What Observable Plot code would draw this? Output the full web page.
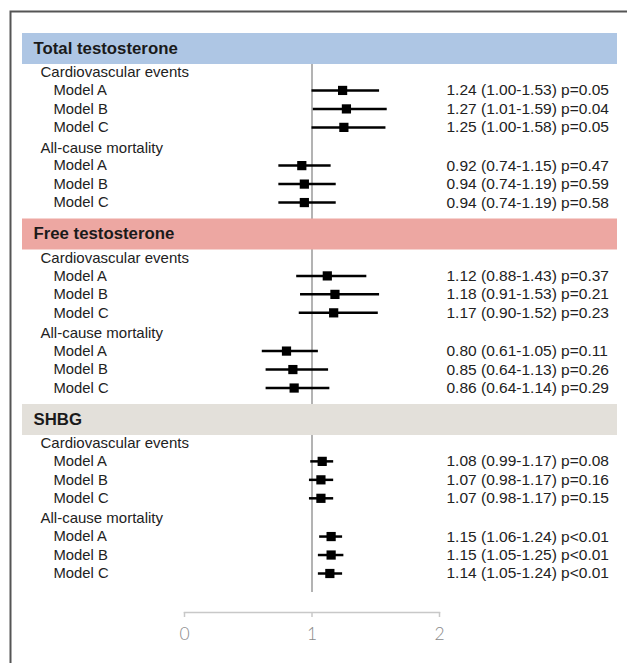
<!DOCTYPE html>
<html>
<head>
<meta charset="utf-8">
<script src="https://cdn.jsdelivr.net/npm/d3@7"></script>
<script src="https://cdn.jsdelivr.net/npm/@observablehq/plot@0.6"></script>
<style>
  html, body { margin: 0; padding: 0; background: #fff; }
  #chart svg { display: block; }
</style>
</head>
<body>
<div id="chart"></div>
<script>
// ---- data ----
const sections = ["Total testosterone", "Free testosterone", "SHBG"];
const sectionColors = ["#aec6e4", "#eda7a2", "#e3e0da"];
const outcomes = ["Cardiovascular events", "All-cause mortality"];
const models = ["Model A", "Model B", "Model C"];

// order: section -> outcome -> model
const hr = [1.24, 1.27, 1.25, 0.92, 0.94, 0.94,
            1.12, 1.18, 1.17, 0.80, 0.85, 0.86,
            1.08, 1.07, 1.07, 1.15, 1.15, 1.14];
const lo = [1.00, 1.01, 1.00, 0.74, 0.74, 0.74,
            0.88, 0.91, 0.90, 0.61, 0.64, 0.64,
            0.99, 0.98, 0.98, 1.06, 1.05, 1.05];
const hi = [1.53, 1.59, 1.58, 1.15, 1.19, 1.19,
            1.43, 1.53, 1.52, 1.05, 1.13, 1.14,
            1.17, 1.17, 1.17, 1.24, 1.25, 1.24];
const pText = ["p=0.05", "p=0.04", "p=0.05", "p=0.47", "p=0.59", "p=0.58",
               "p=0.37", "p=0.21", "p=0.23", "p=0.11", "p=0.26", "p=0.29",
               "p=0.08", "p=0.16", "p=0.15", "p<0.01", "p<0.01", "p<0.01"];
const xTicks = [0, 1, 2];

// ---- layout (row units) ----
const GAP = {headerToGroup: 1.3, groupToModel: 0.97, model: 1.0, modelToGroup: 1.1, modelToHeader: 1.7};
const headers = [], groups = [], rows = [];
let pos = 0, k = 0;
sections.forEach((s, si) => {
  if (si > 0) pos += GAP.modelToHeader;
  headers.push({name: s, color: sectionColors[si], pos});
  outcomes.forEach((o, oi) => {
    pos += oi === 0 ? GAP.headerToGroup : GAP.modelToGroup;
    groups.push({name: o, pos});
    models.forEach((m, mi) => {
      pos += mi === 0 ? GAP.groupToModel : GAP.model;
      const f = v => v.toFixed(2);
      rows.push({name: m, pos, hr: hr[k], lo: lo[k], hi: hi[k],
        label: `${f(hr[k])} (${f(lo[k])}-${f(hi[k])}) ${pText[k]}`});
      k++;
    });
  });
});
const lastPos = pos;

const font = "'Liberation Sans', Arial, sans-serif";

const chart = Plot.plot({
  width: 627,
  height: 663,
  marginLeft: 0,
  marginRight: 0,
  marginTop: 0,
  marginBottom: 51,
  style: {fontFamily: font, background: "#fff"},
  x: {domain: [0, 2], range: [184, 439], axis: null},
  y: {domain: [0, lastPos], range: [48, 573], axis: null},
  color: {type: "identity"},
  marks: [
    Plot.frame({stroke: "#555", strokeWidth: 2, insetLeft: 10, insetTop: 11, insetRight: -20, insetBottom: -80}),
    Plot.ruleX([1], {stroke: "#9a9a9a", strokeWidth: 1.5, insetTop: 60, insetBottom: 20}),
    Plot.tickY(headers, {y: "pos", stroke: "color", strokeWidth: 31, insetLeft: 22, insetRight: 10}),
    Plot.text(headers, {y: "pos", text: "name", frameAnchor: "left", dx: 33, textAnchor: "start",
      fontWeight: "bold", fontSize: 16.8, fill: "#1a1a1a"}),
    Plot.text(groups, {y: "pos", text: "name", frameAnchor: "left", dx: 40, textAnchor: "start",
      fontSize: 15, fill: "#222", style: "word-spacing:3px;letter-spacing:0.1px"}),
    Plot.text(rows, {y: "pos", text: "name", frameAnchor: "left", dx: 53, textAnchor: "start",
      fontSize: 14.8, fill: "#222"}),
    Plot.text(rows, {y: "pos", text: "label", frameAnchor: "left", dx: 446, textAnchor: "start",
      fontSize: 15.5, fill: "#222", style: "letter-spacing:0.4px"}),
    Plot.ruleY(rows, {y: "pos", x1: "lo", x2: "hi", stroke: "#000", strokeWidth: 2.5}),
    Plot.dot(rows, {x: "hr", y: "pos", symbol: "square", r: 5.2, fill: "#000", stroke: "none"}),
    Plot.frame({anchor: "bottom", stroke: "#c8c8c8", strokeWidth: 1.5, insetLeft: 184, insetRight: 188}),
    Plot.axisX({ticks: xTicks, anchor: "bottom", tickSize: 5, tickPadding: 10, label: null,
      stroke: "#c8c8c8", strokeWidth: 1.5, fill: "#8a8a8a", fontSize: 17.5, fontFamily: "Lato", fontWeight: 300,
      tickFormat: d => String(d)})
  ]
});
document.getElementById("chart").appendChild(chart);
</script>
</body>
</html>
